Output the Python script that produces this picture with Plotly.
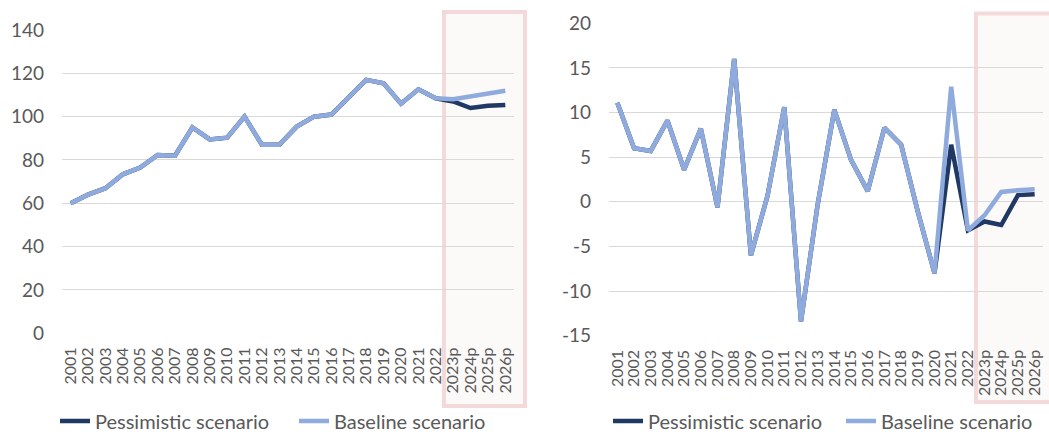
import plotly.graph_objects as go

# ---------------- data ----------------
years = [str(y) for y in range(2001, 2023)] + ["2023p", "2024p", "2025p", "2026p"]

left_baseline = [60, 64, 67, 73.4, 76.5, 82.3, 82, 95, 89.5, 90.3, 100, 87, 87, 95.4,
                 100, 101, 109, 117, 115.4, 106, 112.6, 108.5, 108, 109.2, 110.8, 112]
left_pessimistic = [60, 64, 67, 73.4, 76.5, 82.3, 82, 95, 89.5, 90.3, 100, 87, 87, 95.4,
                    100, 101, 109, 117, 115.4, 106, 112.6, 108.5, 107, 104, 105, 105.4]

right_baseline = [11.1, 6.0, 5.7, 9.1, 3.6, 8.2, -0.6, 16.0, -6.0, 0.7, 10.6, -13.4, -0.3,
                  10.3, 4.7, 1.2, 8.3, 6.4, -1.1, -8.0, 12.9, -3.2, -1.5, 1.1, 1.3, 1.4]
right_pessimistic = [11.1, 6.0, 5.7, 9.1, 3.6, 8.2, -0.6, 16.0, -6.0, 0.7, 10.6, -13.4, -0.3,
                     10.3, 4.7, 1.2, 8.3, 6.4, -1.1, -8.0, 6.4, -3.2, -2.2, -2.6, 0.75, 0.85]

left_ticks = [0, 20, 40, 60, 80, 100, 120, 140]
left_ticktext = ["0", "20", "40", "60", "80", "100", "120", "140"]
right_ticks = [-15, -10, -5, 0, 5, 10, 15, 20]
right_ticktext = ["-15", "-10", "-5", "0", "5", "10", "15", "20"]

series_names = ["Pessimistic scenario", "Baseline scenario"]

# ---------------- style ----------------
W, H = 1049, 434
FONT = "Lato"
TXT = "#595959"
GRID = "#D9D9D9"
C_PESS = "#203864"
C_BASE = "#8FAADC"
LW = 4.5

def px_x(p):
    return p / W

def px_y(p):
    return 1 - p / H

fig = go.Figure()

# left chart
fig.add_trace(go.Scatter(x=years, y=left_pessimistic, name=series_names[0], mode="lines",
                         line=dict(color=C_PESS, width=LW), xaxis="x", yaxis="y", legend="legend"))
fig.add_trace(go.Scatter(x=years, y=left_baseline, name=series_names[1], mode="lines",
                         line=dict(color=C_BASE, width=LW), xaxis="x", yaxis="y", legend="legend"))
# right chart
fig.add_trace(go.Scatter(x=years, y=right_pessimistic, name=series_names[0], mode="lines",
                         line=dict(color=C_PESS, width=LW), xaxis="x2", yaxis="y2", legend="legend2"))
fig.add_trace(go.Scatter(x=years, y=right_baseline, name=series_names[1], mode="lines",
                         line=dict(color=C_BASE, width=LW), xaxis="x2", yaxis="y2", legend="legend2"))

xcommon = dict(type="category", range=[-0.5, len(years) - 0.5], showgrid=False, zeroline=False,
               showline=False, tickangle=-90, ticks="", ticklabelstandoff=10, automargin=False,
               tickmode="array", tickvals=years, ticktext=years,
               tickfont=dict(family=FONT, size=16, color=TXT))
ycommon = dict(showgrid=True, gridcolor=GRID, gridwidth=1, zeroline=False, showline=False,
               ticks="", ticklabelstandoff=17, automargin=False,
               tickfont=dict(family=FONT, size=19, color=TXT))

legcommon = dict(orientation="h", xanchor="left", yanchor="middle", bgcolor="rgba(0,0,0,0)",
                 font=dict(family=FONT, size=20, color=TXT), entrywidthmode="pixels",
                 traceorder="normal")

fig.update_layout(
    template="none",
    width=W, height=H,
    margin=dict(l=0, r=0, t=0, b=0, autoexpand=False),
    paper_bgcolor="white", plot_bgcolor="rgba(0,0,0,0)",
    hovermode=False,
    xaxis=dict(domain=[px_x(62), px_x(514)], anchor="y", **xcommon),
    yaxis=dict(domain=[px_y(333.3), px_y(30)], anchor="x", range=[0, 140],
               tickvals=left_ticks, ticktext=left_ticktext, **ycommon),
    xaxis2=dict(domain=[px_x(609), px_x(1043)], anchor="y2", **xcommon),
    yaxis2=dict(domain=[px_y(335.7), px_y(23.3)], anchor="x2", range=[-15, 20],
                tickvals=right_ticks, ticktext=right_ticktext, **ycommon),
    legend=dict(x=px_x(55), y=px_y(421), entrywidth=194, **legcommon),
    legend2=dict(x=px_x(608), y=px_y(421), entrywidth=188, **legcommon),
    showlegend=True,
    shapes=[
        dict(type="rect", xref="paper", yref="paper", layer="below",
             x0=px_x(444), x1=px_x(525), y0=px_y(406), y1=px_y(12),
             line=dict(color="#F3D9D9", width=4), fillcolor="#FCFAF9"),
        dict(type="rect", xref="paper", yref="paper", layer="below",
             x0=px_x(976), x1=px_x(1056), y0=px_y(402), y1=px_y(13.5),
             line=dict(color="#F3D9D9", width=4), fillcolor="#FCFAF9"),
    ],
)

fig.write_html("out.html", config={"displayModeBar": False, "staticPlot": True},
               post_script="document.body.style.margin='0';document.body.style.overflow='hidden';")
